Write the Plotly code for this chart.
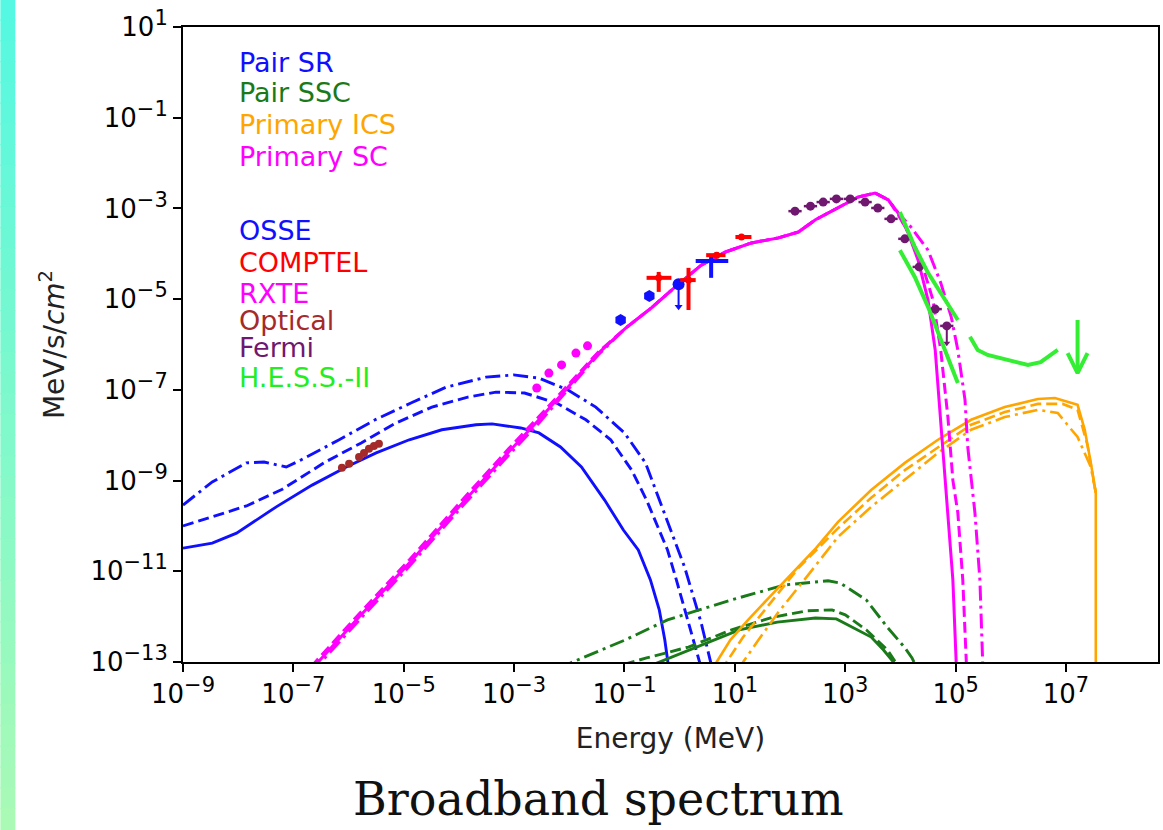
import numpy as np
import plotly.graph_objects as go

# ---------------- data: log10(Energy / MeV) and log10(Flux / MeV s^-1 cm^-2) ----------------
# Pair SR model (blue)
pair_sr_solid_logE = [-9.0, -8.47, -8.03, -7.31, -6.66, -6.04, -5.50, -4.90, -4.31, -3.69, -3.40, -2.88, -2.55,
                      -2.16, -1.78, -1.36, -1.02, -0.75, -0.53, -0.37, -0.27, -0.22, -0.18]
pair_sr_solid_logF = [-10.49, -10.38, -10.16, -9.58, -9.10, -8.70, -8.39, -8.10, -7.88, -7.77, -7.75, -7.84, -7.95,
                      -8.26, -8.70, -9.43, -10.09, -10.53, -11.19, -11.85, -12.51, -13.0, -13.3]
pair_sr_dashed_logE = [-9.0, -8.47, -7.85, -7.20, -6.42, -5.77, -5.14, -4.49, -3.84, -3.33, -2.81, -2.23, -1.70,
                       -1.25, -0.87, -0.60, -0.38, -0.22, -0.06, 0.09, 0.32, 0.36, 0.40]
pair_sr_dashed_logF = [-10.00, -9.80, -9.56, -9.19, -8.59, -8.17, -7.73, -7.38, -7.16, -7.05, -7.07, -7.29, -7.66,
                       -8.10, -8.77, -9.43, -10.09, -10.53, -11.19, -11.85, -12.80, -13.0, -13.3]
pair_sr_dashdot_logE = [-9.0, -8.47, -7.85, -7.53, -7.13, -6.87, -6.17, -5.52, -4.87, -4.23, -3.51, -3.01, -2.55,
                        -2.03, -1.52, -1.00, -0.62, -0.37, -0.17, 0.09, 0.39, 0.57, 0.62]
pair_sr_dashdot_logF = [-9.54, -9.03, -8.61, -8.59, -8.70, -8.55, -8.10, -7.66, -7.29, -6.94, -6.72, -6.67, -6.74,
                        -7.00, -7.38, -7.95, -8.61, -9.43, -10.09, -10.91, -12.14, -13.0, -13.3]

# Pair SSC model (green)
pair_ssc_solid_logE = [-0.73, -0.37, 0.32, 1.08, 1.77, 2.46, 2.84, 3.22, 3.47, 3.69, 3.90]
pair_ssc_solid_logF = [-13.18, -13.0, -12.67, -12.29, -12.12, -12.03, -12.05, -12.29, -12.45, -12.73, -13.04]
pair_ssc_dashed_logE = [-1.29, -0.60, 0.16, 0.94, 1.70, 2.31, 2.76, 3.00, 3.38, 3.76, 3.96]
pair_ssc_dashed_logF = [-13.15, -12.91, -12.67, -12.29, -12.01, -11.87, -11.85, -11.96, -12.29, -12.73, -13.09]
pair_ssc_dashdot_logE = [-2.19, -1.94, -0.98, -0.22, 0.94, 1.91, 2.69, 2.91, 3.38, 3.76, 4.07, 4.21, 4.28]
pair_ssc_dashdot_logF = [-13.15, -13.0, -12.51, -12.07, -11.63, -11.30, -11.21, -11.26, -11.63, -12.23, -12.67,
                         -12.91, -13.09]

# Primary ICS model (orange)
primary_ics_solid_logE = [0.56, 0.67, 0.92, 1.24, 1.61, 2.06, 2.47, 2.87, 3.27, 3.47, 4.08, 4.68, 5.28, 5.89, 6.49,
                          6.80, 7.21, 7.34, 7.45, 7.54, 7.54]
primary_ics_solid_logF = [-13.18, -13.0, -12.51, -12.07, -11.59, -11.02, -10.49, -9.91, -9.43, -9.21, -8.61, -8.10,
                          -7.66, -7.38, -7.20, -7.18, -7.33, -7.88, -8.61, -9.27, -13.3]
primary_ics_dashed_logE = [0.74, 0.85, 1.15, 1.61, 2.15, 2.87, 3.47, 4.08, 4.68, 5.28, 5.89, 6.49, 6.94, 7.21, 7.39,
                           7.54]
primary_ics_dashed_logF = [-13.18, -13.0, -12.45, -11.74, -10.93, -10.05, -9.38, -8.77, -8.26, -7.77, -7.49, -7.31,
                           -7.31, -7.44, -8.22, -9.27]
primary_ics_dashdot_logE = [1.06, 1.15, 1.43, 1.79, 2.33, 2.87, 3.47, 4.08, 4.68, 5.28, 5.89, 6.49, 6.85, 7.21, 7.45,
                            7.54]
primary_ics_dashdot_logF = [-13.18, -13.0, -12.51, -11.90, -11.08, -10.24, -9.58, -8.99, -8.39, -7.88, -7.60, -7.44,
                            -7.51, -8.04, -8.70, -9.27]

# Primary SC model (magenta)
primary_sc_solid_logE = [-6.68, -6.55, -5.81, -4.90, -4.00, -3.10, -2.55, -2.07, -1.47, -0.98, -0.51, -0.08, 0.39,
                         0.83, 1.30, 1.79, 2.15, 2.46, 3.05, 3.23, 3.54, 3.78, 3.96, 4.14, 4.32, 4.50, 4.63, 4.72,
                         4.79, 4.86, 4.95, 5.01, 5.02]
primary_sc_solid_logF = [-13.18, -13.0, -12.01, -10.82, -9.58, -8.37, -7.66, -7.00, -6.19, -5.64, -5.19, -4.73,
                         -4.25, -3.96, -3.76, -3.65, -3.52, -3.25, -2.88, -2.75, -2.66, -2.81, -3.10, -3.54, -4.14,
                         -5.02, -6.12, -7.60, -8.77, -9.71, -11.19, -13.0, -13.18]
primary_sc_dashed_logE = [-6.68, -6.55, -5.81, -4.90, -4.00, -3.10, -2.55, -2.07, -1.47, -0.98, -0.51, -0.08, 0.39,
                          0.83, 1.30, 1.79, 2.15, 2.46, 3.05, 3.23, 3.54, 3.78, 3.96, 4.17, 4.37, 4.59, 4.73, 4.86,
                          4.95, 5.04, 5.13, 5.19, 5.20]
primary_sc_dashed_logF = [-13.11, -12.93, -11.94, -10.75, -9.51, -8.30, -7.59, -6.95, -6.16, -5.64, -5.19, -4.73,
                          -4.25, -3.96, -3.76, -3.65, -3.52, -3.25, -2.88, -2.75, -2.66, -2.81, -3.14, -3.59, -4.14,
                          -5.02, -6.12, -7.60, -8.99, -9.71, -11.19, -13.0, -13.18]
primary_sc_dashdot_logE = [-6.68, -6.55, -5.81, -4.90, -4.00, -3.10, -2.55, -2.07, -1.47, -0.98, -0.51, -0.08, 0.39,
                           0.83, 1.30, 1.79, 2.15, 2.46, 3.05, 3.23, 3.54, 3.78, 3.96, 4.19, 4.50, 4.73, 4.92, 5.04,
                           5.17, 5.22, 5.35, 5.44, 5.49, 5.51]
primary_sc_dashdot_logF = [-13.25, -13.07, -12.08, -10.89, -9.65, -8.44, -7.73, -7.05, -6.22, -5.64, -5.19, -4.73,
                           -4.25, -3.96, -3.76, -3.65, -3.52, -3.25, -2.88, -2.75, -2.66, -2.81, -3.10, -3.41, -3.92,
                           -4.64, -5.39, -6.12, -7.22, -8.26, -9.71, -11.19, -13.0, -13.18]

# Observations
rxte_logE = [-2.59, -2.37, -2.14, -1.88, -1.67]
rxte_logF = [-6.96, -6.63, -6.45, -6.19, -6.03]

optical_logE = [-6.12, -5.99, -5.81, -5.72, -5.63, -5.54, -5.45]
optical_logF = [-8.72, -8.63, -8.48, -8.39, -8.30, -8.24, -8.19]

osse_logE = [-1.07, -0.55, -0.02]
osse_logF = [-5.46, -4.93, -4.67]
osse_symbols = ["hexagon", "hexagon", "circle"]
osse_limit_logE = [-0.02]
osse_limit_logF_top = [-4.67]
osse_limit_logF_tip = [-5.17]
osse_cross_logE = [0.57]
osse_cross_logF = [-4.16]
osse_cross_logE_lo = [0.29]
osse_cross_logE_hi = [0.88]
osse_cross_logF_lo = [-4.53]
osse_cross_logF_hi = [-4.07]

comptel_logE = [-0.38, 0.16, 0.67, 1.12]
comptel_logF = [-4.53, -4.58, -4.03, -3.63]
comptel_logE_lo = [-0.60, 0.01, 0.48, 1.01]
comptel_logE_hi = [-0.15, 0.29, 0.83, 1.30]
comptel_logF_lo = [-4.84, -5.24, -4.10, -3.66]
comptel_logF_hi = [-4.40, -4.31, -3.96, -3.60]

fermi_logE = [2.09, 2.37, 2.60, 2.84, 3.09, 3.36, 3.59, 3.83, 4.08, 4.34, 4.63, 4.84]
fermi_logF = [-3.06, -2.95, -2.86, -2.79, -2.79, -2.86, -2.99, -3.23, -3.67, -4.29, -5.22, -5.59]
fermi_logE_halfwidth = 0.12
fermi_limit_logE = [4.84]
fermi_limit_logF_top = [-5.59]
fermi_limit_logF_tip = [-5.97]

hess_upper_logE = [3.99, 4.26, 4.50, 4.73, 5.04]
hess_upper_logF = [-3.08, -3.85, -4.42, -4.86, -5.46]
hess_lower_logE = [3.99, 4.26, 4.50, 4.73, 5.04]
hess_lower_logF = [-3.92, -4.51, -5.17, -5.90, -6.85]
hess_curve_logE = [5.26, 5.40, 5.58, 5.95, 6.31, 6.54, 6.85]
hess_curve_logF = [-5.83, -6.12, -6.23, -6.34, -6.45, -6.39, -6.12]
hess_limit_logE = 7.21
hess_limit_logF_top = -5.46
hess_limit_logF_tip = -6.63

# Axis ticks and labels
x_tick_exponents = [-9, -7, -5, -3, -1, 1, 3, 5, 7]
y_tick_exponents = [1, -1, -3, -5, -7, -9, -11, -13]
x_label = "Energy (MeV)"
y_label = "MeV/s/<i>cm</i><sup>2</sup>"
slide_title = "Broadband spectrum"

legend_models = [("Pair SR", "#1010ff"), ("Pair SSC", "#1a7a1a"), ("Primary ICS", "#ffa500"),
                 ("Primary SC", "#ff00ff")]
legend_data = [("OSSE", "#1010ff"), ("COMPTEL", "#ff0000"), ("RXTE", "#ff00ff"), ("Optical", "#a52a2a"),
               ("Fermi", "#701870"), ("H.E.S.S.-II", "#22ee22")]

# ---------------- figure ----------------
def p10(v):
    return np.power(10.0, np.asarray(v, dtype=float))

BLUE, GREEN, ORANGE, MAGENTA = "#1010ff", "#1a7a1a", "#ffa500", "#ff00ff"
RED, BROWN, PURPLE, LIME = "#ff0000", "#a52a2a", "#701870", "#33ee33"
DASH = "11px,5px"
DASHDOT = "15px,5px,3px,5px"

fig = go.Figure()


def add_line(lx, ly, color, dash="solid", width=2.9):
    fig.add_trace(go.Scatter(x=p10(lx), y=p10(ly), mode="lines",
                             line=dict(color=color, width=width, dash=dash), hoverinfo="skip"))


add_line(pair_sr_solid_logE, pair_sr_solid_logF, BLUE)
add_line(pair_sr_dashed_logE, pair_sr_dashed_logF, BLUE, DASH)
add_line(pair_sr_dashdot_logE, pair_sr_dashdot_logF, BLUE, DASHDOT)
add_line(pair_ssc_solid_logE, pair_ssc_solid_logF, GREEN)
add_line(pair_ssc_dashed_logE, pair_ssc_dashed_logF, GREEN, DASH)
add_line(pair_ssc_dashdot_logE, pair_ssc_dashdot_logF, GREEN, DASHDOT)
add_line(primary_ics_solid_logE, primary_ics_solid_logF, ORANGE, width=2.6)
add_line(primary_ics_dashed_logE, primary_ics_dashed_logF, ORANGE, DASH, width=2.6)
add_line(primary_ics_dashdot_logE, primary_ics_dashdot_logF, ORANGE, DASHDOT, width=2.6)
add_line(primary_sc_solid_logE, primary_sc_solid_logF, MAGENTA, width=3.0)
add_line(primary_sc_dashed_logE, primary_sc_dashed_logF, MAGENTA, DASH, width=3.0)
add_line(primary_sc_dashdot_logE, primary_sc_dashdot_logF, MAGENTA, DASHDOT, width=3.0)

# RXTE
fig.add_trace(go.Scatter(x=p10(rxte_logE), y=p10(rxte_logF), mode="markers",
                         marker=dict(color=MAGENTA, size=9, symbol="circle")))
# Optical
fig.add_trace(go.Scatter(x=p10(optical_logE), y=p10(optical_logF), mode="markers",
                         marker=dict(color=BROWN, size=8, symbol="circle")))
# OSSE
fig.add_trace(go.Scatter(x=p10(osse_logE), y=p10(osse_logF), mode="markers",
                         marker=dict(color=BLUE, size=12, symbol=osse_symbols)))
for lx, ltop, ltip in zip(osse_limit_logE, osse_limit_logF_top, osse_limit_logF_tip):
    fig.add_trace(go.Scatter(x=p10([lx, lx]), y=p10([ltop, ltip]), mode="lines",
                             line=dict(color=BLUE, width=2)))
    fig.add_trace(go.Scatter(x=p10([lx]), y=p10([ltip]), mode="markers",
                             marker=dict(color=BLUE, size=7, symbol="triangle-down")))
cx, cy = p10(osse_cross_logE), p10(osse_cross_logF)
fig.add_trace(go.Scatter(
    x=cx, y=cy, mode="markers", marker=dict(color=BLUE, size=5),
    error_x=dict(type="data", symmetric=False, array=p10(osse_cross_logE_hi) - cx,
                 arrayminus=cx - p10(osse_cross_logE_lo), color=BLUE, thickness=4, width=0),
    error_y=dict(type="data", symmetric=False, array=p10(osse_cross_logF_hi) - cy,
                 arrayminus=cy - p10(osse_cross_logF_lo), color=BLUE, thickness=4, width=0)))
# COMPTEL
cx, cy = p10(comptel_logE), p10(comptel_logF)
fig.add_trace(go.Scatter(
    x=cx, y=cy, mode="markers", marker=dict(color=RED, size=7),
    error_x=dict(type="data", symmetric=False, array=p10(comptel_logE_hi) - cx,
                 arrayminus=cx - p10(comptel_logE_lo), color=RED, thickness=4, width=0),
    error_y=dict(type="data", symmetric=False, array=p10(comptel_logF_hi) - cy,
                 arrayminus=cy - p10(comptel_logF_lo), color=RED, thickness=4, width=0)))
# Fermi
fx, fy = p10(fermi_logE), p10(fermi_logF)
fig.add_trace(go.Scatter(
    x=fx, y=fy, mode="markers", marker=dict(color=PURPLE, size=9),
    error_x=dict(type="data", symmetric=False,
                 array=p10(np.asarray(fermi_logE) + fermi_logE_halfwidth) - fx,
                 arrayminus=fx - p10(np.asarray(fermi_logE) - fermi_logE_halfwidth),
                 color=PURPLE, thickness=2.5, width=0)))
for lx, ltop, ltip in zip(fermi_limit_logE, fermi_limit_logF_top, fermi_limit_logF_tip):
    fig.add_trace(go.Scatter(x=p10([lx, lx]), y=p10([ltop, ltip]), mode="lines",
                             line=dict(color=PURPLE, width=2)))
    fig.add_trace(go.Scatter(x=p10([lx]), y=p10([ltip]), mode="markers",
                             marker=dict(color=PURPLE, size=6, symbol="triangle-down")))
# H.E.S.S.-II
add_line(hess_upper_logE, hess_upper_logF, LIME, width=4)
add_line(hess_lower_logE, hess_lower_logF, LIME, width=4)
add_line(hess_curve_logE, hess_curve_logF, LIME, width=4)
add_line([hess_limit_logE, hess_limit_logE], [hess_limit_logF_top, hess_limit_logF_tip], LIME, width=4)
head_dx, head_dy = 0.18, 0.44
add_line([hess_limit_logE - head_dx, hess_limit_logE, hess_limit_logE + head_dx],
         [hess_limit_logF_tip + head_dy, hess_limit_logF_tip, hess_limit_logF_tip + head_dy], LIME, width=4)


def sup_label(e):
    return ("10<sup><span style='font-size:21px'>" + ("\u2212" if e < 0 else "") + str(abs(e))
            + "</span></sup>")


W, H = 1163, 830
ML, MR, MT, MB = 183, 3, 27, 168
PW, PH = W - ML - MR, H - MT - MB
x_min_log = -9.0
x_max_log = x_min_log + PW / 55.3

axis_common = dict(type="log", showgrid=False, zeroline=False, showline=True, linecolor="black", linewidth=2,
                   mirror=True, ticks="outside", ticklen=8, tickwidth=1.8, tickcolor="black",
                   tickfont=dict(family="DejaVu Sans", size=26, color="black"))
fig.update_xaxes(range=[x_min_log, x_max_log], tickvals=p10(x_tick_exponents),
                 ticktext=[sup_label(e) for e in x_tick_exponents],
                 title=dict(text=x_label, font=dict(family="DejaVu Sans", size=28, color="#222"), standoff=20),
                 **axis_common)
fig.update_yaxes(range=[-13, 1], tickvals=p10(y_tick_exponents),
                 ticktext=[sup_label(e) for e in y_tick_exponents],
                 title=dict(text=y_label, font=dict(family="DejaVu Sans", size=28, color="#222"), standoff=18),
                 **axis_common)

annotations = []
legend_y_px = [62, 93, 124, 156, 230, 262, 293, 320, 347, 378]
for (label, color), ypx in zip(legend_models + legend_data, legend_y_px):
    annotations.append(dict(text=label, xref="paper", yref="paper", x=(237 - ML) / PW, y=(MT + PH - ypx) / PH,
                            xanchor="left", yanchor="middle", showarrow=False,
                            font=dict(family="DejaVu Sans", size=27, color=color)))
annotations.append(dict(text=slide_title, xref="paper", yref="paper", x=(599 - ML) / PW,
                        y=(MT + PH - 799) / PH, xanchor="center", yanchor="middle", showarrow=False,
                        font=dict(family="DejaVu Serif", size=46, color="#111")))

# left decorative gradient strip of the slide
shapes = []
n_bands = 40
top_rgb, bot_rgb = np.array([85, 248, 226]), np.array([170, 250, 182])
for i in range(n_bands):
    t = i / (n_bands - 1)
    c = (1 - t) * top_rgb + t * bot_rgb
    y0 = H - (i + 1) * H / n_bands
    y1 = H - i * H / n_bands
    shapes.append(dict(type="rect", xref="paper", yref="paper", x0=-ML / PW, x1=(15 - ML) / PW,
                       y0=(y0 - MB) / PH, y1=(y1 - MB) / PH + 0.002, line=dict(width=0),
                       fillcolor="rgb(%d,%d,%d)" % tuple(c.astype(int)), layer="below"))

fig.update_layout(width=W, height=H, margin=dict(l=ML, r=MR, t=MT, b=MB, pad=0), showlegend=False,
                  paper_bgcolor="white", plot_bgcolor="white", annotations=annotations, shapes=shapes,
                  font=dict(family="DejaVu Sans", color="black"))

fig.write_html("out.html")
